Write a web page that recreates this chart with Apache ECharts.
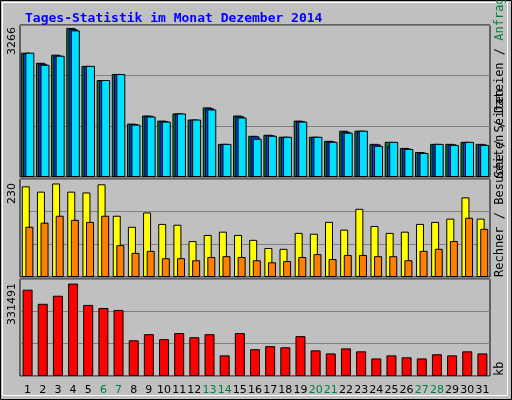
<!DOCTYPE html>
<html><head><meta charset="utf-8">
<script src="https://cdn.jsdelivr.net/npm/echarts@6/dist/echarts.min.js"></script>
<style>html,body{margin:0;padding:0;background:#c0c0c0}#main{width:512px;height:400px}</style>
</head><body><div id="main"></div>
<script>
// Tages-Statistik Dezember 2014
var days=['1','2','3','4','5','6','7','8','9','10','11','12','13','14','15','16','17','18','19','20','21','22','23','24','25','26','27','28','29','30','31'];
var weekend=['6','7','13','14','20','21','27','28'];
var anfragen=[2724,2502,2680,3266,2435,2124,2257,1170,1347,1236,1392,1258,1525,726,1347,903,925,881,1236,881,792,1014,1014,726,770,637,548,726,726,770,726];
var dateien=[2710,2480,2660,3240,2430,2120,2255,1160,1340,1225,1390,1255,1505,724,1330,890,915,880,1225,880,782,990,1012,715,680,625,537,724,715,768,715];
var seiten=[2724,2457,2657,3212,2435,2124,2257,1148,1325,1214,1392,1258,1480,726,1303,837,903,881,1214,881,770,970,1014,681,770,615,526,726,703,770,703];
var besuche=[222,209,229,209,207,227,150,123,158,130,128,88,103,111,103,91,71,69,108,106,135,116,167,125,108,111,130,135,143,195,143];
var rechner=[123,133,150,140,135,150,78,59,64,46,46,41,49,51,49,41,36,39,49,56,44,54,54,51,51,41,64,69,88,145,118];
var kb=[309700,259000,288000,331491,255000,244000,237000,128000,150000,132000,154000,139000,150000,74000,154000,96000,107000,103000,143000,92000,81000,99000,88500,63000,74000,67000,63000,78000,74000,88500,81000];

var chart=echarts.init(document.getElementById('main'));
var mono='DejaVu Sans Mono';
function grid(top,h){return {left:20,width:470,top:top,height:h,show:true,backgroundColor:'#c0c0c0',borderColor:'#000',borderWidth:1};}
function xa(i,show){return {type:'category',gridIndex:i,data:days,axisTick:{show:false},axisLine:{show:false},
  axisLabel:{show:show,fontFamily:'DejaVu Sans',fontSize:11,margin:9,interval:0,
    color:function(v){return weekend.indexOf(v)>=0?'#008040':'#000';}}};}
function ya(i,max){return {type:'value',gridIndex:i,min:0,max:max,interval:max/3,axisLabel:{show:false},axisTick:{show:false},axisLine:{show:false},
  splitLine:{lineStyle:{color:'#808080',width:1}}};}
function bar(name,data,i,color,w,gap){return {name:name,type:'bar',xAxisIndex:i,yAxisIndex:i,data:data,barWidth:w,barGap:gap,
  itemStyle:{color:color,borderColor:'#000',borderWidth:1},animation:false};}
function vtext(x,y,align,rich,txt){return {type:'text',x:x,y:y,rotation:Math.PI/2,
  style:{text:txt,align:align,verticalAlign:'middle',fontFamily:mono,fontSize:12,rich:rich}};}

var rich={a:{fontFamily:mono,fontSize:12,fill:'#008040',color:'#008040'},d:{fontFamily:mono,fontSize:12,color:'#0080ff'},
  s:{fontFamily:mono,fontSize:12,color:'#00e0ff'},b:{fontFamily:mono,fontSize:12,color:'#ffff00'},
  r:{fontFamily:mono,fontSize:12,color:'#ff8000'},k:{fontFamily:mono,fontSize:12,color:'#ff0000'},
  n:{fontFamily:mono,fontSize:12,color:'#000'}};

chart.setOption({
  backgroundColor:'#c0c0c0',
  title:{text:'Tages-Statistik im Monat Dezember 2014',left:20,top:7,
    textStyle:{fontFamily:mono,fontWeight:'bold',fontSize:13,color:'#0000ff'}},
  grid:[grid(25,152),grid(179,98),grid(279,97)],
  xAxis:[xa(0,false),xa(1,false),xa(2,true)],
  yAxis:[ya(0,3330),ya(1,240),ya(2,348000)],
  series:[
    bar('Anfragen',anfragen,0,'#008040',9,'-75%'),
    bar('Dateien',dateien,0,'#0040ff',9,'-75%'),
    bar('Seiten',seiten,0,'#00e0ff',9,'-75%'),
    bar('Besuche',besuche,1,'#ffff00',8,'-55%'),
    bar('Rechner',rechner,1,'#ff8000',8,'-55%'),
    bar('kb',kb,2,'#ff0000',10,'0%')
  ],
  graphic:[
    {type:'rect',shape:{x:0.5,y:0.5,width:511,height:399},style:{fill:'none',stroke:'#000',lineWidth:1}},
    {type:'rect',shape:{x:2.5,y:2.5,width:505,height:393},style:{fill:'none',stroke:'#fff',lineWidth:1}},
    {type:'text',x:18,y:27,rotation:Math.PI/2,style:{text:'3266',align:'right',verticalAlign:'bottom',fontFamily:'DejaVu Sans',fontSize:11,fill:'#000'}},
    {type:'text',x:18,y:183,rotation:Math.PI/2,style:{text:'230',align:'right',verticalAlign:'bottom',fontFamily:'DejaVu Sans',fontSize:11,fill:'#000'}},
    {type:'text',x:18,y:283,rotation:Math.PI/2,style:{text:'331491',align:'right',verticalAlign:'bottom',fontFamily:'DejaVu Sans',fontSize:11,fill:'#000'}},
    vtext(500,178,'left',rich,'{s|Seiten} {n|/} {d|Dateien} {n|/} {a|Anfragen}'),
    vtext(500,277,'left',rich,'{r|Rechner} {n|/} {b|Besuche} {n|/} {s|Seiten}'),
    vtext(500,376,'left',rich,'{k|kb}')
  ]
});
</script></body></html>
